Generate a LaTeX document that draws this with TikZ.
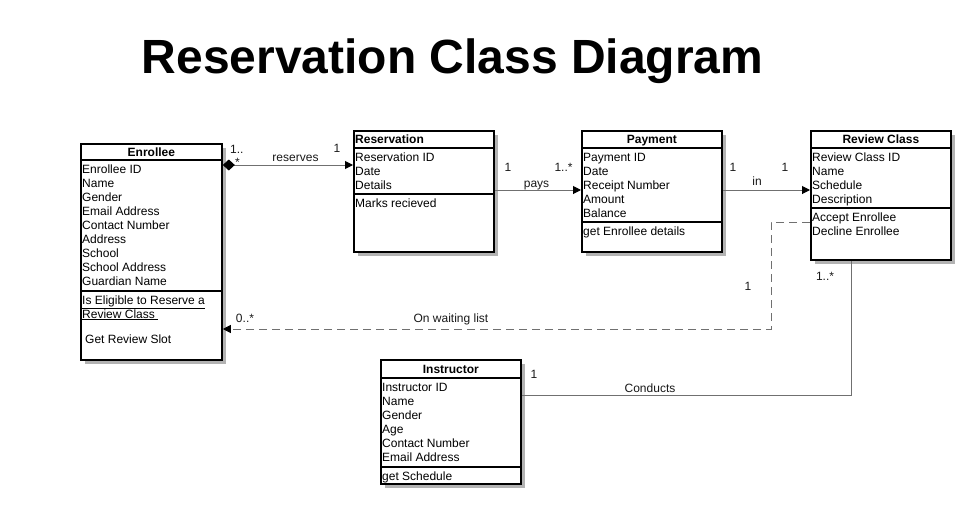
\documentclass[tikz,border=0pt]{standalone}
\usepackage{fontspec}
\setmainfont{Liberation Sans}
\usetikzlibrary{arrows.meta,shadows}

\definecolor{linkgray}{HTML}{707070}
\definecolor{shadowgray}{HTML}{B3B3B3}

\begin{document}
\begin{tikzpicture}
      [x=1pt,y=-1pt
      ,cls/.style={draw=black,line width=1.8pt,fill=white,anchor=north west,inner sep=0pt
                  ,drop shadow={shadow xshift=4pt,shadow yshift=-4pt,fill=shadowgray,opacity=1}}
      ,sep/.style={draw=black,line width=1.8pt}
      ,head/.style={anchor=base,inner sep=0pt,font=\fontsize{12}{14}\selectfont\bfseries}
      ,attr/.style={anchor=base west,inner sep=0pt,font=\fontsize{12}{14}\selectfont}
      ,lbl/.style={anchor=base,inner sep=0pt,font=\fontsize{12}{14}\selectfont,text=black!90}
      ,link/.style={draw=linkgray,line width=1pt}
      ,tip/.style={-{Triangle[length=8pt,width=8pt,color=black]}}
      ]
        \useasboundingbox (0,0) rectangle (972,506);
        \node[anchor=base,inner sep=0pt,font=\fontsize{48}{58}\selectfont\bfseries] (title) at (452.5,73) {Reservation Class Diagram};

        % class boxes
        \node[cls,minimum width=141pt,minimum height=216pt] (enrollee) at (80,143) {};
        \node[cls,minimum width=140pt,minimum height=121pt] (reservation) at (353,130) {};
        \node[cls,minimum width=140pt,minimum height=121pt] (payment) at (581,130) {};
        \node[cls,minimum width=140pt,minimum height=129pt] (reviewclass) at (810,130) {};
        \node[cls,minimum width=140pt,minimum height=124pt] (instructor) at (380,359) {};

        % Enrollee
        \node[head] (enr-h) at (enrollee.north |- 0,156) {Enrollee};
        \draw[sep] (enrollee.west |- 0,160) -- (enrollee.east |- 0,160);
        \foreach \t [count=\i] in {Enrollee ID,Name,Gender,Email Address,Contact Number,Address,School,School Address,Guardian Name}
          \node[attr] (enr-a\i) at (82,159+14*\i) {\t};
        \draw[sep] (enrollee.west |- 0,291) -- (enrollee.east |- 0,291);
        \node[attr] (enr-m1) at (82,304) {\underline{Is Eligible to Reserve a}};
        \node[attr] (enr-m2) at (82,318) {\underline{Review Class\ }};
        \node[attr] (enr-m3) at (85,343) {Get Review Slot};

        % Reservation
        \node[head,anchor=base west] (res-h) at (355,143) {Reservation};
        \draw[sep] (reservation.west |- 0,148) -- (reservation.east |- 0,148);
        \foreach \t [count=\i] in {Reservation ID,Date,Details}
          \node[attr] (res-a\i) at (355,147+14*\i) {\t};
        \draw[sep] (reservation.west |- 0,194) -- (reservation.east |- 0,194);
        \node[attr] (res-m1) at (355,207) {Marks recieved};

        % Payment
        \node[head] (pay-h) at (payment.north |- 0,143) {Payment};
        \draw[sep] (payment.west |- 0,148) -- (payment.east |- 0,148);
        \foreach \t [count=\i] in {Payment ID,Date,Receipt Number,Amount,Balance}
          \node[attr] (pay-a\i) at (583,147+14*\i) {\t};
        \draw[sep] (payment.west |- 0,222) -- (payment.east |- 0,222);
        \node[attr] (pay-m1) at (583,235) {get Enrollee details};

        % Review Class
        \node[head] (rev-h) at (reviewclass.north |- 0,143) {Review Class};
        \draw[sep] (reviewclass.west |- 0,148) -- (reviewclass.east |- 0,148);
        \foreach \t [count=\i] in {Review Class ID,Name,Schedule,Description}
          \node[attr] (rev-a\i) at (812,147+14*\i) {\t};
        \draw[sep] (reviewclass.west |- 0,208) -- (reviewclass.east |- 0,208);
        \node[attr] (rev-m1) at (812,221) {Accept Enrollee};
        \node[attr] (rev-m2) at (812,235) {Decline Enrollee};

        % Instructor
        \node[head] (ins-h) at (instructor.north |- 0,373) {Instructor};
        \draw[sep] (instructor.west |- 0,378) -- (instructor.east |- 0,378);
        \foreach \t [count=\i] in {Instructor ID,Name,Gender,Age,Contact Number,Email Address}
          \node[attr] (ins-a\i) at (382,377+14*\i) {\t};
        \draw[sep] (instructor.west |- 0,467) -- (instructor.east |- 0,467);
        \node[attr] (ins-m1) at (382,480) {get Schedule};

        % connectors
        \coordinate (resY) at (0,165);
        \coordinate (payY) at (0,190);
        \coordinate (waitY) at (0,222);
        \coordinate (waitX) at (771,329);
        \coordinate (condX) at (851,395);
        \draw[link,{Diamond[length=12pt,width=11pt,color=black]}-{Triangle[length=8pt,width=8pt,color=black]}]
          (enrollee.east |- resY) -- (reservation.west |- resY);
        \draw[link,tip] (reservation.east |- payY) -- (payment.west |- payY);
        \draw[link,tip] (payment.east |- payY) -- (reviewclass.west |- payY);
        \draw[link,tip,dash pattern=on 8pt off 5pt] (reviewclass.west |- waitY) -| (waitX) -- (enrollee.east |- waitX);
        \draw[link] (instructor.east |- condX) -| (reviewclass.south -| condX);

        % labels
        \node[lbl,anchor=base west] (l-res1) at (230,153) {1..};
        \node[lbl,anchor=base west] (l-res2) at (235,166) {*};
        \node[lbl] (l-res3) at (295.5,161) {reserves};
        \node[lbl] (l-res4) at (337,152) {1};
        \node[lbl] (l-pay1) at (508,171) {1};
        \node[lbl] (l-pay2) at (563.5,171) {1..*};
        \node[lbl] (l-pay3) at (536.5,187) {pays};
        \node[lbl] (l-in1) at (733,171) {1};
        \node[lbl] (l-in2) at (785,171) {1};
        \node[lbl] (l-in3) at (757,185) {in};
        \node[lbl] (l-wait1) at (748,290) {1};
        \node[lbl] (l-wait2) at (245,322) {0..*};
        \node[lbl] (l-wait3) at (451,322) {On waiting list};
        \node[lbl] (l-con1) at (825,280) {1..*};
        \node[lbl] (l-con2) at (534,378) {1};
        \node[lbl] (l-con3) at (650,392) {Conducts};
      \end{tikzpicture}
\end{document}
